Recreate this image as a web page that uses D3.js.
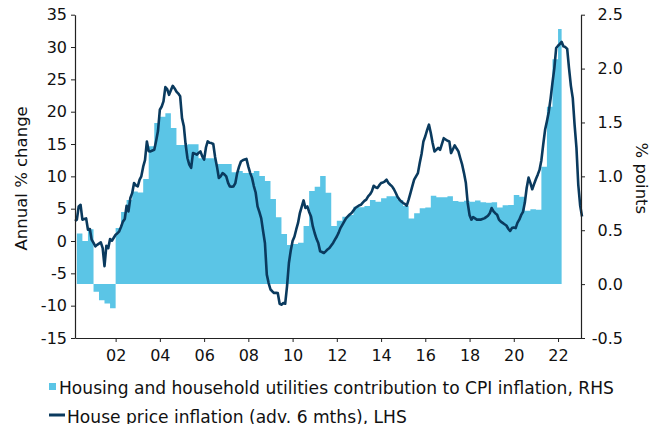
<!DOCTYPE html>
<html>
<head>
<meta charset="utf-8">
<script src="https://cdn.jsdelivr.net/npm/d3@7"></script>
<style>
  html, body { margin: 0; padding: 0; background: #fff; }
  svg { display: block; }
  text { font-family: "DejaVu Sans", Verdana, sans-serif; fill: #111; }
</style>
</head>
<body>
<svg id="chart" width="661" height="424"></svg>
<script>
// ---------------- DATA ----------------
// Housing and household utilities contribution to CPI inflation (% points, RHS), quarterly
const barQuarters = [
  "2000Q2","2000Q3","2000Q4","2001Q1","2001Q2","2001Q3","2001Q4",
  "2002Q1","2002Q2","2002Q3","2002Q4","2003Q1","2003Q2","2003Q3","2003Q4",
  "2004Q1","2004Q2","2004Q3","2004Q4","2005Q1","2005Q2","2005Q3","2005Q4",
  "2006Q1","2006Q2","2006Q3","2006Q4","2007Q1","2007Q2","2007Q3","2007Q4",
  "2008Q1","2008Q2","2008Q3","2008Q4","2009Q1","2009Q2","2009Q3","2009Q4",
  "2010Q1","2010Q2","2010Q3","2010Q4","2011Q1","2011Q2","2011Q3","2011Q4",
  "2012Q1","2012Q2","2012Q3","2012Q4","2013Q1","2013Q2","2013Q3","2013Q4",
  "2014Q1","2014Q2","2014Q3","2014Q4","2015Q1","2015Q2","2015Q3","2015Q4",
  "2016Q1","2016Q2","2016Q3","2016Q4","2017Q1","2017Q2","2017Q3","2017Q4",
  "2018Q1","2018Q2","2018Q3","2018Q4","2019Q1","2019Q2","2019Q3","2019Q4",
  "2020Q1","2020Q2","2020Q3","2020Q4","2021Q1","2021Q2","2021Q3","2021Q4",
  "2022Q1"
];
const barValues = [
  0.47, 0.40, 0.51, -0.07, -0.15, -0.18, -0.225,
  0.52, 0.67, 0.78, 0.86, 0.85, 0.975, 1.28, 1.495,
  1.553, 1.585, 1.449, 1.29, 1.29, 1.297, 1.297, 1.167,
  1.167, 1.167, 1.114, 1.114, 1.114, 1.037, 1.05, 1.03,
  1.03, 1.05, 1.003, 0.957, 0.79, 0.62, 0.465, 0.363,
  0.372, 0.384, 0.539, 0.864, 0.904, 1.003, 0.848, 0.539,
  0.588, 0.625, 0.641, 0.718, 0.713, 0.725, 0.78, 0.765,
  0.796, 0.815, 0.815, 0.78, 0.725, 0.61, 0.657, 0.703,
  0.71, 0.82, 0.805, 0.805, 0.815, 0.771, 0.765, 0.774,
  0.765, 0.777, 0.759, 0.756, 0.759, 0.712, 0.731, 0.734,
  0.826, 0.81, 0.681, 0.695, 0.69, 1.09, 1.646, 2.086,
  2.367
];
const barLastEnd = "2022-03-01"; // latest bar covers Jan-Feb 2022

// House price inflation (adv. 6 mths), % y/y (LHS), monthly
const hpStart = "2000-03";
const hpValues = [
  3.1, 3.3, 5.35, 5.6, 3.3, 3.4, 3.5, 1.75, 1.85, 0.2,            // 2000-03 .. 2000-12
  -0.3, -0.83, -0.6, -0.4, -0.2, -1.1, -3.9, -0.73, -1.1, 0.3, 0.05, 0.5, // 2001
  0.97, 1.2, 1.5, 2.2, 3.0, 3.4, 5.46, 4.58, 6.65, 7.4, 8.97, 8.6,        // 2002
  8.45, 9.5, 10.0, 11.5, 12.5, 15.4, 13.9, 13.86, 14.0, 14.1, 15.5, 17.0, // 2003
  20.3, 20.8, 21.6, 23.8, 23.5, 22.6, 23.3, 24.0, 23.6, 23.1, 22.8, 22.4, // 2004
  19.0, 17.7, 15.0, 12.8, 11.8, 11.3, 13.6, 13.5, 13.35, 13.6, 13.86, 13.1, // 2005
  12.6, 14.5, 15.4, 15.2, 15.15, 15.0, 13.0, 11.5, 9.74, 10.0, 10.5, 10.3, // 2006
  10.0, 9.0, 8.45, 8.4, 8.45, 8.97, 10.5, 11.5, 12.3, 12.5, 12.6, 12.7,    // 2007
  11.5, 10.5, 9.8, 8.5, 7.5, 5.35, 4.5, 3.5, 1.5, -0.3, -5.2, -6.5,        // 2008
  -7.5, -7.8, -8.05, -8.0, -8.05, -9.7, -9.85, -9.6, -9.7, -7.0, -3.4, -1.5, // 2009
  0.0, 0.7, 1.75, 2.8, 4.33, 5.3, 6.28, 5.1, 5.35, 4.5, 3.8, 2.26,         // 2010
  1.2, 0.3, -0.3, -1.6, -1.7, -1.86, -1.6, -1.3, -1.08, -0.7, -0.3, 0.2,   // 2011
  0.7, 1.3, 2.0, 2.5, 3.0, 3.5, 3.8, 4.1, 4.33, 4.7, 5.1, 5.3,             // 2012
  5.5, 5.6, 5.9, 6.2, 6.4, 6.9, 7.2, 7.67, 8.55, 8.3, 8.2, 8.6,            // 2013
  8.97, 9.06, 9.2, 9.48, 9.0, 8.7, 8.45, 8.0, 7.42, 6.8, 6.4, 6.1,         // 2014
  5.88, 5.7, 5.46, 6.4, 7.42, 8.5, 9.48, 10.0, 10.5, 12.06, 13.5, 15.4,    // 2015
  16.2, 17.2, 18.0, 16.7, 15.15, 13.86, 14.1, 14.4, 14.1, 15.0, 15.9, 15.7, // 2016
  15.5, 15.4, 13.6, 14.2, 14.8, 14.3, 13.86, 12.8, 11.8, 10.5, 8.97, 5.88, // 2017
  4.0, 3.3, 3.7, 3.5, 3.3, 3.3, 3.3, 3.4, 3.5, 3.7, 3.9, 4.3,              // 2018
  5.1, 4.58, 4.3, 4.07, 3.3, 3.0, 2.8, 2.6, 2.4, 1.9, 1.55, 2.0,           // 2019
  2.1, 2.0, 2.8, 3.3, 4.0, 4.5, 5.9, 8.2, 9.8, 9.0, 8.0, 8.8,              // 2020
  9.6, 10.3, 11.0, 12.5, 14.9, 17.2, 18.5, 20.0, 22.1, 24.5, 26.75, 29.85, // 2021
  30.2, 30.5, 30.8, 30.1, 30.0, 29.7, 26.75, 24.0, 22.1, 18.0, 14.4, 8.7,  // 2022 (shifted)
  5.5, 3.8
];

// Axis ticks
const leftTicks = [-15, -10, -5, 0, 5, 10, 15, 20, 25, 30, 35];
const rightTicks = [-0.5, 0.0, 0.5, 1.0, 1.5, 2.0, 2.5];
const xTickYears = [2002, 2004, 2006, 2008, 2010, 2012, 2014, 2016, 2018, 2020, 2022];

const barLabel = "Housing and household utilities contribution to CPI inflation, RHS";
const lineLabel = "House price inflation (adv. 6 mths), LHS";
const leftTitle = "Annual % change";
const rightTitle = "% points";

// ---------------- CHART ----------------
const svg = d3.select("#chart");
const plot = { left: 75, right: 581, top: 14.7, bottom: 338 };
const barColor = "#5bc5e6";
const lineColor = "#0a3a5e";
const axisColor = "#222";

const x = d3.scaleTime()
  .domain([new Date(2000, 2, 1), new Date(2023, 0, 15)])
  .range([plot.left, plot.right]);
const yL = d3.scaleLinear().domain([-15, 35]).range([plot.bottom, plot.top]);
const yR = d3.scaleLinear().domain([-0.5, 2.5]).range([plot.bottom, plot.top]);

const parseQ = q => new Date(+q.slice(0, 4), (+q.slice(5) - 1) * 3, 1);
const bars = barQuarters.map((q, i) => ({ date: parseQ(q), v: barValues[i] }));
bars.push({ date: d3.timeParse("%Y-%m-%d")(barLastEnd), v: barValues[barValues.length - 1] });

const startM = d3.timeParse("%Y-%m")(hpStart);
const hp = hpValues.map((v, i) => ({ date: d3.timeMonth.offset(startM, i), v }));

// bars as a stepped area from zero on the RHS scale
svg.append("path")
  .datum(bars)
  .attr("fill", barColor)
  .attr("d", d3.area()
    .curve(d3.curveStepAfter)
    .x(d => x(d.date))
    .y0(yR(0))
    .y1(d => yR(d.v)));

// line
svg.append("path")
  .datum(hp)
  .attr("fill", "none")
  .attr("stroke", lineColor)
  .attr("stroke-width", 2.6)
  .attr("stroke-linejoin", "round")
  .attr("d", d3.line().x(d => x(d.date)).y(d => yL(d.v)));

// axes
const fmtL = d => (d < 0 ? "-" : "") + Math.abs(d);
const fmtR = d => (d < 0 ? "-" : "") + Math.abs(d).toFixed(1);

const gL = svg.append("g").attr("transform", `translate(${plot.left},0)`)
  .call(d3.axisLeft(yL).tickValues(leftTicks).tickFormat(fmtL).tickSize(4).tickSizeOuter(0).tickPadding(4));
const gR = svg.append("g").attr("transform", `translate(${plot.right},0)`)
  .call(d3.axisRight(yR).tickValues(rightTicks).tickFormat(fmtR).tickSize(4).tickSizeOuter(0).tickPadding(4));
gR.selectAll(".tick text").attr("text-anchor", "end").attr("x", 42);
const gB = svg.append("g").attr("transform", `translate(0,${plot.bottom})`)
  .call(d3.axisBottom(x).tickValues(xTickYears.map(y => new Date(y, 0, 1))).tickFormat(d3.timeFormat("%y")).tickSize(4).tickSizeOuter(0).tickPadding(8));

[gL, gR, gB].forEach(g => {
  g.selectAll("path.domain").attr("stroke", axisColor).attr("stroke-width", 1.2);
  g.selectAll(".tick line").attr("stroke", axisColor);
  g.selectAll(".tick text").attr("font-family", "DejaVu Sans, Verdana, sans-serif").attr("font-size", 16).attr("fill", "#111");
});

// axis titles
svg.append("text")
  .attr("transform", `translate(27,${(plot.top + plot.bottom) / 2 + 2}) rotate(-90)`)
  .attr("text-anchor", "middle").attr("font-size", 16.5).text(leftTitle);
svg.append("text")
  .attr("transform", `translate(636,${(plot.top + plot.bottom) / 2 + 2}) rotate(90)`)
  .attr("text-anchor", "middle").attr("font-size", 16.5).text(rightTitle);

// legend
const lg = svg.append("g");
lg.append("rect").attr("x", 49).attr("y", 383).attr("width", 7).attr("height", 7).attr("fill", barColor);
lg.append("text").attr("x", 59).attr("y", 394).attr("font-size", 17.1).text(barLabel);
lg.append("line").attr("x1", 49).attr("x2", 65).attr("y1", 415).attr("y2", 415)
  .attr("stroke", lineColor).attr("stroke-width", 3);
lg.append("text").attr("x", 67).attr("y", 423).attr("font-size", 17.1).text(lineLabel);
</script>
</body>
</html>
